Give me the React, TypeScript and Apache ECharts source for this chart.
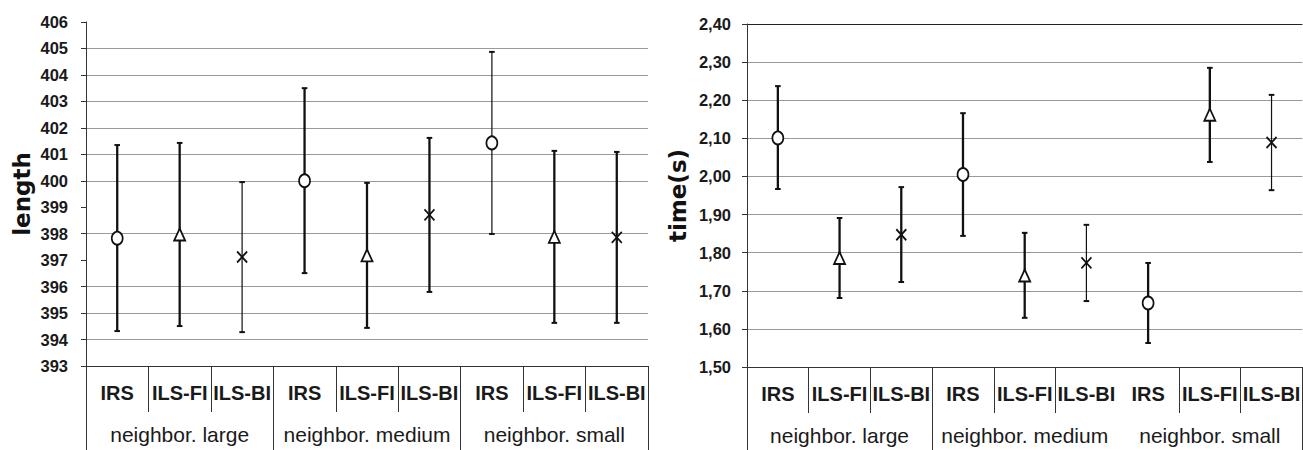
import React, { useEffect, useRef } from "react";
import * as echarts from "echarts";

// ---- data ----
const methods = ["IRS", "ILS-FI", "ILS-BI", "IRS", "ILS-FI", "ILS-BI", "IRS", "ILS-FI", "ILS-BI"];
const groups = ["neighbor. large", "neighbor. medium", "neighbor. small"];

const lengthMean = [397.83, 397.97, 397.12, 400.0, 397.18, 398.71, 401.43, 397.88, 397.86];
const lengthLow = [394.32, 394.51, 394.28, 396.51, 394.44, 395.8, 397.99, 394.63, 394.63];
const lengthHigh = [401.35, 401.43, 399.95, 403.5, 399.92, 401.62, 404.87, 401.13, 401.09];

const timeMean = [2.101, 1.786, 1.847, 2.005, 1.74, 1.773, 1.668, 2.162, 2.089];
const timeLow = [1.967, 1.681, 1.723, 1.844, 1.629, 1.673, 1.563, 2.038, 1.964];
const timeHigh = [2.237, 1.891, 1.972, 2.166, 1.852, 1.873, 1.773, 2.285, 2.214];

const lengthTicks = [393, 394, 395, 396, 397, 398, 399, 400, 401, 402, 403, 404, 405, 406];
const timeTicks = [1.5, 1.6, 1.7, 1.8, 1.9, 2.0, 2.1, 2.2, 2.3, 2.4];

// ---- styles (kept separate from data) ----
const lengthThin = [false, false, true, false, false, false, true, false, false];
const timeThin = [false, false, false, false, false, true, false, false, true];
const lengthHiddenGrid = [397, 399, 406];
const timeDarkGrid = [2.4];

const SANS = "'Liberation Sans', Arial, sans-serif";
const TEXT = "#1a1a1a";
const AXIS = "#333";
const GRIDC = "#9a9a9a";
const MARK = "#111";

const markerFor: Record<string, any> = {
  IRS: { symbol: "circle", symbolSize: [11, 13] },
  "ILS-FI": { symbol: "triangle", symbolSize: [11, 12] },
  "ILS-BI": { symbol: "path://M0 0L10 10M10 0L0 10", symbolSize: [10, 11] },
};

function buildGridLines(ticks: number[], fn: (v: number) => string) {
  return ticks.map(fn);
}

function errorSeries(idx: number, low: number[], high: number[], thin: boolean[]) {
  return {
    type: "custom",
    xAxisIndex: idx * 2,
    yAxisIndex: idx,
    data: low.map((l, i) => [i, l, high[i]]),
    encode: { x: 0, y: [1, 2] },
    z: 3,
    renderItem: (params: any, api: any) => {
      const x = api.value(0);
      const lo = api.coord([x, api.value(1)]);
      const hi = api.coord([x, api.value(2)]);
      const w = thin[params.dataIndex] ? 1.2 : 2.3;
      const cap = 2.8;
      const style = { stroke: MARK, lineWidth: w };
      const capStyle = { stroke: MARK, lineWidth: 2 };
      return {
        type: "group",
        children: [
          { type: "line", shape: { x1: lo[0], y1: lo[1], x2: hi[0], y2: hi[1] }, style },
          { type: "line", shape: { x1: hi[0] - cap, y1: hi[1], x2: hi[0] + cap, y2: hi[1] }, style: capStyle },
          { type: "line", shape: { x1: lo[0] - cap, y1: lo[1], x2: lo[0] + cap, y2: lo[1] }, style: capStyle },
        ],
      };
    },
  };
}

function markerSeries(idx: number, mean: number[]) {
  return {
    type: "scatter",
    xAxisIndex: idx * 2,
    yAxisIndex: idx,
    z: 5,
    data: mean.map((m, i) => ({ value: [i, m], ...markerFor[methods[i]] })),
    itemStyle: { color: "#fff", borderColor: MARK, borderWidth: 1.8, opacity: 1 },
  };
}

function xAxes(gridIndex: number, hideMethodTick: number[], hideGroupTick: number[]) {
  return [
    {
      type: "category",
      gridIndex,
      data: methods,
      position: "bottom",
      axisLine: { show: true, lineStyle: { color: AXIS, width: 1 } },
      axisTick: {
        show: true,
        length: 46,
        interval: (i: number) => hideMethodTick.indexOf(i) < 0,
        lineStyle: { color: AXIS, width: 1 },
      },
      axisLabel: {
        interval: 0,
        margin: 17,
        fontFamily: SANS,
        fontWeight: "bold",
        fontSize: 20,
        color: TEXT,
      },
      splitLine: { show: false },
    },
    {
      type: "category",
      gridIndex,
      data: groups,
      position: "bottom",
      axisLine: { show: false },
      axisTick: {
        show: true,
        length: 84,
        interval: (i: number) => hideGroupTick.indexOf(i) < 0,
        lineStyle: { color: AXIS, width: 1 },
      },
      axisLabel: {
        interval: 0,
        margin: 58,
        fontFamily: SANS,
        fontSize: 21,
        color: TEXT,
      },
      splitLine: { show: false },
    },
  ];
}

function yAxis(gridIndex: number, ticks: number[], name: string, nameGap: number, margin: number,
  fmt: (v: number) => string, colors: string[]) {
  return {
    type: "value",
    gridIndex,
    min: ticks[0],
    max: ticks[ticks.length - 1],
    interval: Math.round((ticks[1] - ticks[0]) * 1000) / 1000,
    name,
    nameLocation: "middle",
    nameRotate: 90,
    nameGap,
    nameTextStyle: { fontFamily: "'DejaVu Sans', sans-serif", fontWeight: "bold", fontSize: 23, color: "#111" },
    axisLine: { show: true, lineStyle: { color: AXIS, width: 1 } },
    axisTick: { show: true, length: 5, lineStyle: { color: AXIS } },
    axisLabel: { margin, formatter: fmt, fontFamily: SANS, fontWeight: "bold", fontSize: 16.5, color: TEXT },
    splitLine: { show: true, lineStyle: { color: colors, width: 1 } },
  };
}

export default function App() {
  const ref = useRef<HTMLDivElement>(null);
  useEffect(() => {
    if (!ref.current) return;
    const chart = echarts.init(ref.current, undefined, { renderer: "svg" });
    const lengthColors = buildGridLines(lengthTicks, (v) => (lengthHiddenGrid.indexOf(v) >= 0 ? "rgba(0,0,0,0)" : GRIDC));
    const timeColors = buildGridLines(timeTicks, (v) => (timeDarkGrid.indexOf(v) >= 0 ? "#222" : GRIDC));
    const option: any = {
      animation: false,
      backgroundColor: "#fff",
      grid: [
        { left: 86, top: 22, width: 562, height: 344 },
        { left: 747, top: 24, width: 563, height: 343 },
      ],
      xAxis: [...xAxes(0, [], []), ...xAxes(1, [6], [2])],
      yAxis: [
        yAxis(0, lengthTicks, "length", 53, 18, (v: number) => String(v), lengthColors),
        yAxis(1, timeTicks, "time(s)", 58, 16, (v: number) => v.toFixed(2).replace(".", ","), timeColors),
      ],
      series: [
        errorSeries(0, lengthLow, lengthHigh, lengthThin),
        markerSeries(0, lengthMean),
        errorSeries(1, timeLow, timeHigh, timeThin),
        markerSeries(1, timeMean),
      ],
    };
    chart.setOption(option);
    return () => chart.dispose();
  }, []);
  return (
    <div
      ref={ref}
      style={{ position: "absolute", left: 0, top: 0, width: 1303, height: 450, overflow: "hidden", background: "#fff" }}
    />
  );
}
